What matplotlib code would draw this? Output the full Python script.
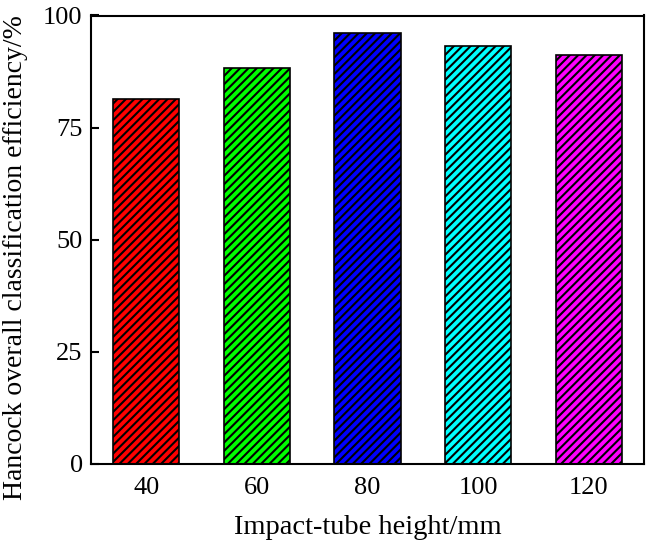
import matplotlib
matplotlib.use("Agg")
import matplotlib.pyplot as plt
import numpy as np

heights = ["40", "60", "80", "100", "120"]
efficiency = [81.3, 88.3, 96.0, 93.3, 91.3]
colors = ["#ff0000", "#00ff00", "#0000ff", "#00ffff", "#ff00ff"]

plt.rcParams["font.family"] = ["Liberation Serif", "DejaVu Serif"]
plt.rcParams["hatch.linewidth"] = 1.5

fig = plt.figure(figsize=(6.5, 5.49), dpi=100)
ax = fig.add_axes([91 / 650, 1 - 464 / 549, 553 / 650, 448.5 / 549])

x = np.arange(len(heights))
ax.bar(x, efficiency, width=0.6, color=colors, edgecolor="black",
       linewidth=1.2, hatch="////")

ax.set_xlim(-0.5, 4.5)
ax.set_ylim(0, 100)
ax.set_yticks([0, 25, 50, 75, 100])
ax.set_xticks(x)
ax.set_xticklabels(heights)
ax.tick_params(axis="y", direction="in", length=6, width=1.5, labelsize=19, pad=6)
ax.tick_params(axis="x", length=0, labelsize=19, pad=9)
for s in ax.spines.values():
    s.set_linewidth(1.5)

ax.set_xlabel("Impact-tube height/mm", fontsize=20.5, labelpad=12)
# y label sits a bit lower than the axes centre in the original
fig.text(16 / 650, 1 - 258 / 549, "Hancock overall classification efficiency/%",
         fontsize=20, rotation=90, ha="center", va="center")

fig.savefig("out.png", dpi=100)
